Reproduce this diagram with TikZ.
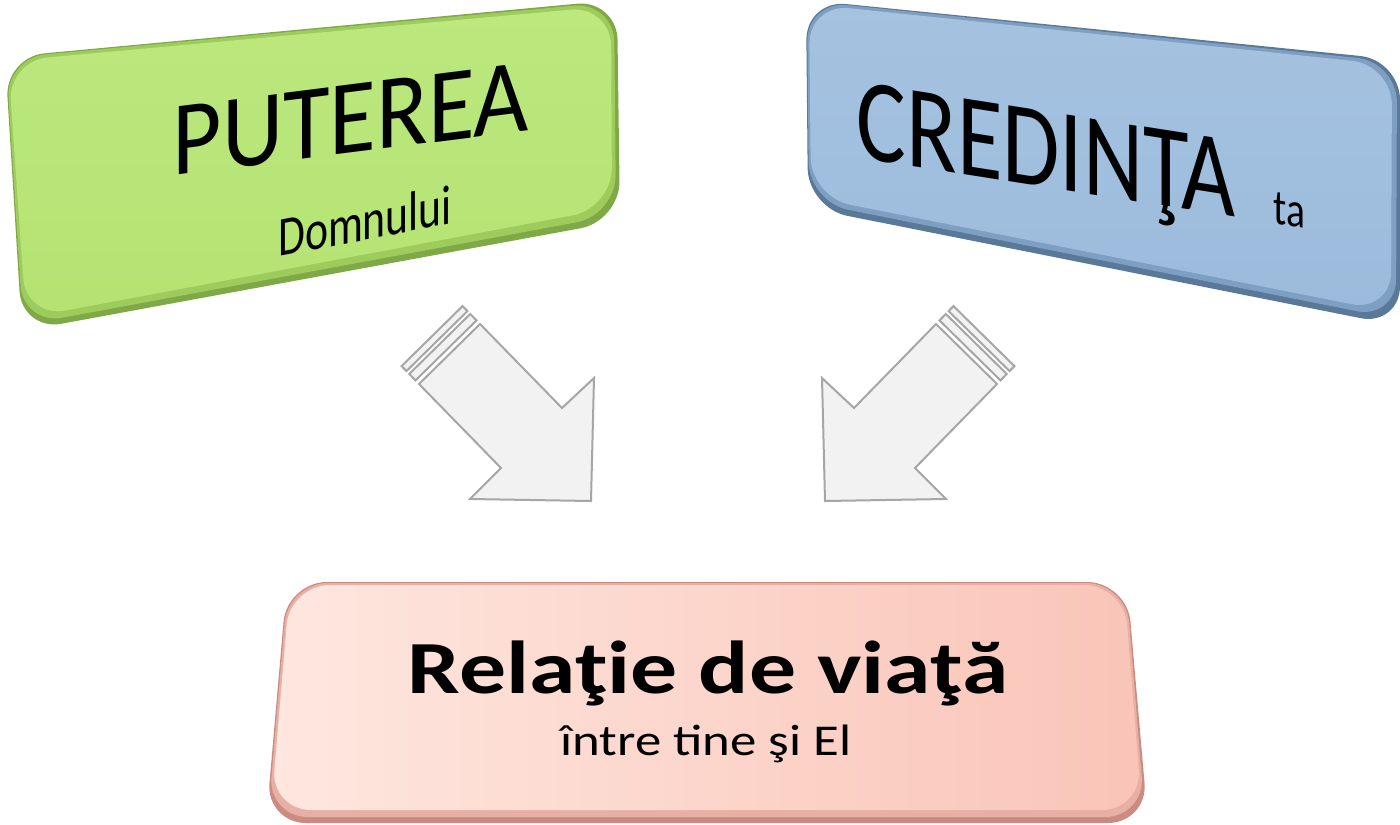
\documentclass[tikz,border=0pt]{standalone}
\usepackage{fontspec}
\setmainfont{Carlito}
\usepackage{graphicx}
\usepackage{tikz}
\usetikzlibrary{positioning}

\definecolor{grrim}{HTML}{7FA846}
\definecolor{grmid}{HTML}{9DCB5C}
\definecolor{grface}{HTML}{B4E372}
\definecolor{grlight}{HTML}{BCE87E}
\definecolor{blrim}{HTML}{5A7898}
\definecolor{blmid}{HTML}{7F9FC2}
\definecolor{blface}{HTML}{9CBBDC}
\definecolor{bllight}{HTML}{A5C2E0}
\definecolor{pkrim}{HTML}{CC8B80}
\definecolor{pkmid}{HTML}{E8AFA4}
\definecolor{pkleft}{HTML}{FEE7DF}
\definecolor{pkright}{HTML}{FAC4B8}
\definecolor{arrfill}{HTML}{F2F2F2}
\definecolor{arrline}{HTML}{A6A6A6}

\begin{document}
\begin{tikzpicture}[x=0.5pt,y=-0.5pt,
    boxround/.style={rounded corners=20pt},
    arrowpart/.style={fill=arrfill,draw=arrline,line width=1pt,line join=miter},
    label/.style={anchor=base,inner sep=0pt,text=black}]
      \useasboundingbox (0,0) rectangle (1400,824);
      % Green box (top left)
      \fill[boxround,grrim] (5,57) -- (617,0) -- (620,221) -- (22,331) -- cycle;
      \fill[boxround,grmid] (6,58) -- (614,2) -- (616,215) -- (23,325) -- cycle;
      \shade[boxround,top color=grlight,bottom color=grface] (8,61) -- (611,6) -- (612,208) -- (26,318) -- cycle;
      \node[label,yslant=0.126,font=\fontsize{53}{60}\selectfont] (puterea) at (351,153) {\scalebox{0.9}[1]{PUTEREA}};
      \node[label,yslant=0.19,font=\fontsize{28}{32}\selectfont] (domnului) at (365,240) {\scalebox{0.78}[1]{Domnului}};
      % Blue box (top right)
      \fill[boxround,blrim] (806,0) -- (1400,60) -- (1400,326) -- (808,208) -- cycle;
      \fill[boxround,blmid] (807,1) -- (1397,62) -- (1396,319) -- (809,202) -- cycle;
      \shade[boxround,top color=bllight,bottom color=blface] (809,4) -- (1392,65) -- (1391,312) -- (811,197) -- cycle;
      \node[label,yslant=-0.157,font=\fontsize{59}{66}\selectfont] (credinta) at (1081,193)
        {\scalebox{0.79}[1]{CREDIN^^^^0162A\hspace{24pt}{\fontsize{25}{30}\selectfont ta}}};
      % Two striped block arrows, the second one mirrored
      \foreach \m in {1,-1} {
        \begin{scope}[shift={({708*(1-\m)},0)},xscale=\m]
          \draw[arrowpart] (419,384) -- (480,324) -- (562,408) -- (594,378) -- (591,501)
            -- (470,499) -- (501,468) -- cycle;
          \foreach \a/\b in {5/14, 18/25}
            \draw[arrowpart] ({419-0.698*\a},{384-0.716*\a}) -- ({480-0.698*\a},{324-0.716*\a})
              -- ({480-0.698*\b},{324-0.716*\b}) -- ({419-0.698*\b},{384-0.716*\b}) -- cycle;
        \end{scope}
      }
      % Pink box (bottom)
      \fill[boxround,pkrim] (287,582) -- (1127,582) -- (1148,823) -- (266,823) -- cycle;
      \fill[boxround,pkmid] (288,583) -- (1126,583) -- (1145,817) -- (268,817) -- cycle;
      \shade[boxround,left color=pkleft,right color=pkright] (290,585) -- (1124,585) -- (1142,810) -- (271,810) -- cycle;
      \node[label,font=\bfseries\fontsize{37.5}{44}\selectfont] (relatie) at (708,693) {\scalebox{1.25}[1]{Rela^^^^0163ie de via^^^^0163^^^^0103}};
      \node[label,font=\fontsize{22}{26}\selectfont] (intre) at (706,755) {\scalebox{1.2}[1]{^^^^00eentre tine ^^^^015fi El}};
\end{tikzpicture}
\end{document}
